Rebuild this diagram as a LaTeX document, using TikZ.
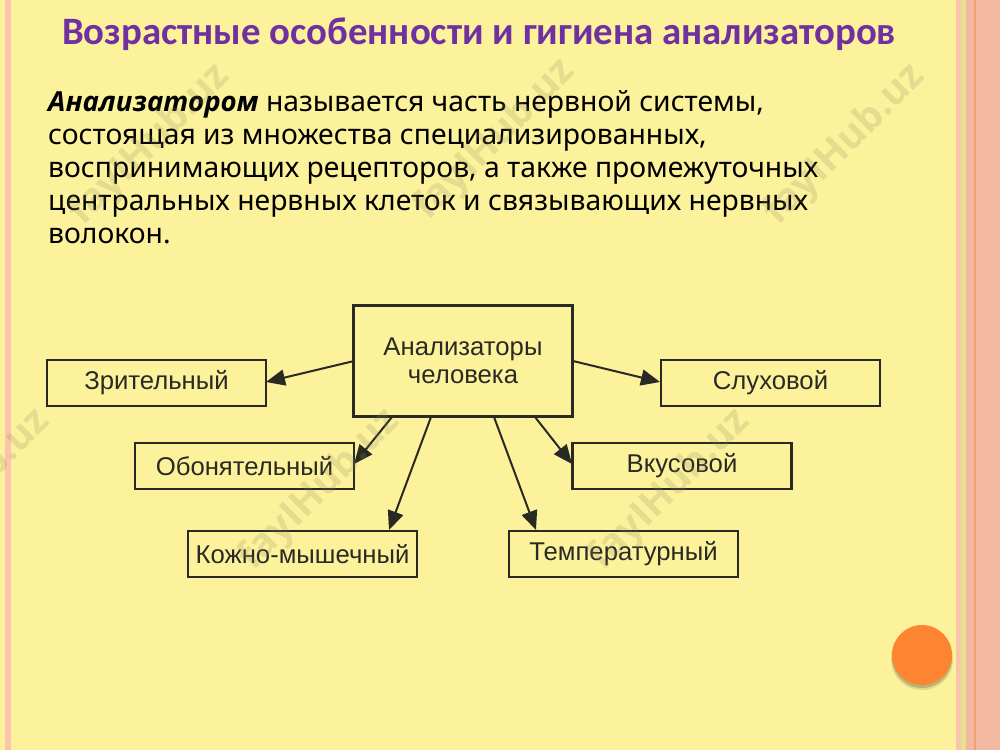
\documentclass[tikz,border=0pt]{standalone}
\usepackage{fontspec}
\setmainfont{Noto Sans}
\newfontfamily\titlefont{Carlito}
\newfontfamily\boxfont{Liberation Sans}
\newfontfamily\opensans{Open Sans}
\usetikzlibrary{arrows.meta}
\definecolor{bgy}{HTML}{FDF29C}
\definecolor{pinkband}{HTML}{F3B9A0}
\definecolor{pinkline}{HTML}{FBC4AC}
\definecolor{orangeline}{HTML}{F1A070}
\definecolor{greenline}{HTML}{E6E08F}
\definecolor{inkbox}{HTML}{2A2A24}
\definecolor{titlepurple}{HTML}{7030A0}
\definecolor{orangeball}{HTML}{FD8430}
\definecolor{wm}{HTML}{8C8460}
\tikzset{
  x=1pt,y=-1pt,
  box/.style={draw=inkbox,line width=2.2pt,fill=bgy,inner sep=0pt,text=inkbox,font=\boxfont\fontsize{25.7}{28}\selectfont,align=center},
  conn/.style={draw=inkbox,line width=2pt,-{Triangle[length=19pt,width=16pt]}},
  wmark/.style={rotate=45,text=wm,opacity=0.2,font=\opensans\bfseries\fontsize{39}{39}\selectfont,inner sep=0pt},
}
\begin{document}
\begin{tikzpicture}
\useasboundingbox (0,0) rectangle (1000,750);
\fill[bgy] (0,0) rectangle (1000,750);
% borders
\fill[pinkline] (5,0) rectangle (11,750);
\fill[pinkline] (956,0) rectangle (961,750);
\fill[greenline] (961,0) rectangle (966,750);
\fill[pinkband] (966,0) rectangle (1000,750);
\fill[orangeline] (974,0) rectangle (976,750);
% title
\node[text=titlepurple,font=\titlefont\bfseries\fontsize{38.8}{44}\selectfont,inner sep=0pt] (title) at (479,34) {Возрастные особенности и гигиена анализаторов};
% paragraph
\node[anchor=north west,inner sep=0pt,align=left,text=black,font=\fontsize{28.3}{33.2}\selectfont] (para) at (48,90) {{\opensans\bfseries\itshape\fontsize{27.6}{33.2}\selectfont Анализатором} называется часть нервной системы,\\состоящая из множества специализированных,\\воспринимающих рецепторов, а также промежуточных\\центральных нервных клеток и связывающих нервных\\волокон.};
% connectors' free coordinates
\coordinate (a1) at (354,361);
\coordinate (a2) at (573,361);
\coordinate (a3) at (392,417);
\coordinate (a4) at (431,417);
\coordinate (a5) at (535,417);
\coordinate (a6) at (494,417);
\coordinate (e1) at (266,382);
\coordinate (e2) at (660,382);
\coordinate (e3) at (354,464);
\coordinate (e4) at (389,530);
\coordinate (e5) at (572,464);
\coordinate (e6) at (536,530);
% boxes
\node[box,minimum width=219pt,minimum height=111pt] (main) at (463,361) {Анализаторы\\человека};
\node[box,minimum width=219pt,minimum height=46pt] (z) at (156.5,383) {Зрительный};
\node[box,minimum width=219pt,minimum height=46pt] (o) at (244.5,466) {Обонятельный};
\node[box,minimum width=229pt,minimum height=46pt] (k) at (302.5,554) {Кожно-мышечный};
\node[box,minimum width=219pt,minimum height=46pt] (s) at (770.5,383) {Слуховой};
\node[box,minimum width=219pt,minimum height=46pt] (v) at (682,466) {Вкусовой};
\node[box,minimum width=229pt,minimum height=46pt] (t) at (623.5,554) {Температурный};
\draw[conn] (a1) -- (e1);
\draw[conn] (a2) -- (e2);
\draw[conn] (a3) -- (e3);
\draw[conn] (a4) -- (e4);
\draw[conn] (a5) -- (e5);
\draw[conn] (a6) -- (e6);
% ball
\fill[black!60!bgy,opacity=0.18] (922,659) circle (31);
\fill[black!60!bgy,opacity=0.3] (922,658) circle (30);
\node[circle,fill=orangeball,minimum size=60pt,inner sep=0pt] (ball) at (922,655) {};
% watermarks
\foreach \p/\q in {150/145,495/140,845/145,-30/490,320/490,670/490}{
  \node[wmark] at (\p,\q) {fayIHub.uz};
}
\end{tikzpicture}
\end{document}
